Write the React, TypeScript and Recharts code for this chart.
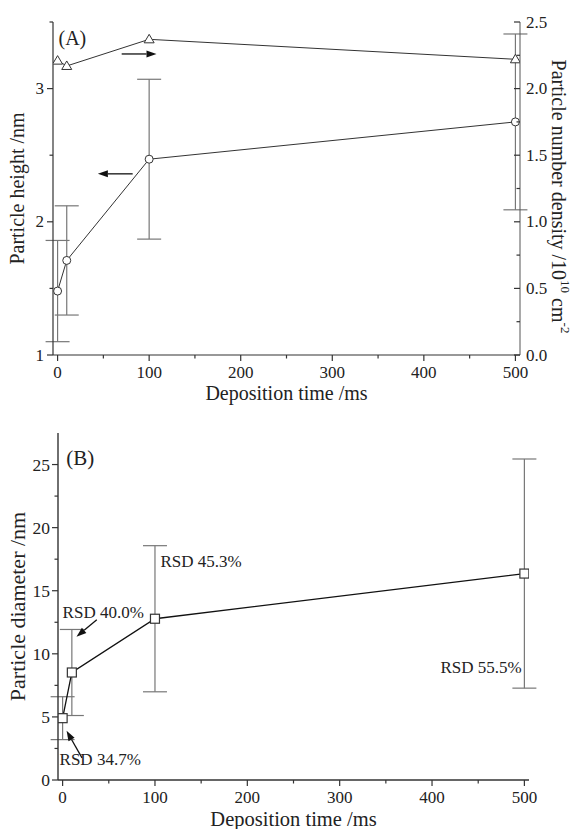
import React from "react";
import {
    ComposedChart, Line, XAxis, YAxis, ErrorBar, ReferenceLine, ReferenceDot,
} from "recharts";

// deposition time (ms)
const TIME = [0, 10, 100, 500];

// panel A
const HEIGHT = [1.48, 1.71, 2.47, 2.75];
const HEIGHT_ERR = [0.38, 0.41, 0.6, 0.66];
const DENSITY = [2.21, 2.17, 2.37, 2.22];

// panel B
const DIAMETER = [4.9, 8.52, 12.78, 16.36];
const DIAMETER_ERR = [1.7, 3.41, 5.79, 9.08];

const X_TICKS = [0, 50, 100, 150, 200, 250, 300, 350, 400, 450, 500];
const X_LABELS = [0, 100, 200, 300, 400, 500];
const HEIGHT_TICKS = [1, 1.5, 2, 2.5, 3, 3.5];
const HEIGHT_LABELS = [1, 2, 3];
const DENSITY_TICKS = [0, 0.25, 0.5, 0.75, 1, 1.25, 1.5, 1.75, 2, 2.25, 2.5];
const DENSITY_LABELS = [0, 0.5, 1, 1.5, 2, 2.5];
const DIAM_TICKS = [0, 2.5, 5, 7.5, 10, 12.5, 15, 17.5, 20, 22.5, 25];
const DIAM_LABELS = [0, 5, 10, 15, 20, 25];

// annotations: arrows [x1, y1, x2, y2] with the head at the second point
const ARROWS_A = [[70, 3.26, 108, 3.26], [82, 2.36, 44, 2.36]];
const ARROWS_B = [[21, 1.75, 4.3, 3.9], [37, 12.7, 15, 11.35]];
const RSD_NOTES = [
    { t: -3.3, v: 1.6, text: "RSD 34.7%", anchor: "start" },
    { t: 0, v: 13.25, text: "RSD 40.0%", anchor: "start" },
    { t: 106, v: 17.3, text: "RSD 45.3%", anchor: "start" },
    { t: 497, v: 8.9, text: "RSD 55.5%", anchor: "end" },
];

const dataA = TIME.map((t, i) => ({ t, h: HEIGHT[i], hErr: HEIGHT_ERR[i], d: DENSITY[i] }));
const dataB = TIME.map((t, i) => ({ t, dia: DIAMETER[i], diaErr: DIAMETER_ERR[i] }));

const FONT = "'Liberation Serif', 'DejaVu Serif', serif";
const TEXT = "#222";
const AXIS = "#333";
const LINE = "#333";
const ERR = "#777";

function makeTick(side: string, labels: number[], fmt: (v: number) => string, fs: number, gap: number) {
    return (props: any) => {
        const { x, y, payload } = props;
        const v = payload.value;
        const major = labels.some(l => Math.abs(l - v) < 1e-9);
        const len = major ? 6 : 3.5;
        if (side === "bottom") {
            return (
                <g>
                    <line x1={x} x2={x} y1={y} y2={y + len} stroke={AXIS} strokeWidth={1.2} />
                    {major && <text x={x} y={y + gap} textAnchor="middle" dominantBaseline="central"
                        fontFamily={FONT} fontSize={fs} fill={TEXT}>{fmt(v)}</text>}
                </g>
            );
        }
        if (side === "left") {
            return (
                <g>
                    <line x1={x - len} x2={x} y1={y} y2={y} stroke={AXIS} strokeWidth={1.2} />
                    {major && <text x={x - gap} y={y} textAnchor="end" dominantBaseline="central"
                        fontFamily={FONT} fontSize={fs} fill={TEXT}>{fmt(v)}</text>}
                </g>
            );
        }
        return (
            <g>
                <line x1={x - len} x2={x} y1={y} y2={y} stroke={AXIS} strokeWidth={1.2} />
                {major && <text x={x + gap} y={y} textAnchor="start" dominantBaseline="central"
                    fontFamily={FONT} fontSize={fs} fill={TEXT}>{fmt(v)}</text>}
            </g>
        );
    };
}

const arrowShape = (p: any) => {
    const { x1, y1, x2, y2 } = p;
    const a = Math.atan2(y2 - y1, x2 - x1);
    const L = 10, W = 3.5;
    const bx = x2 - L * Math.cos(a), by = y2 - L * Math.sin(a);
    const pts = `${x2},${y2} ${bx + W * Math.sin(a)},${by - W * Math.cos(a)} ${bx - W * Math.sin(a)},${by + W * Math.cos(a)}`;
    return (
        <g>
            <line x1={x1} y1={y1} x2={bx} y2={by} stroke="#111" strokeWidth={1.3} />
            <polygon points={pts} fill="#111" />
        </g>
    );
};

const circleDot = (p: any) => (
    <circle key={p.index} cx={p.cx} cy={p.cy} r={4} fill="#fff" stroke={LINE} strokeWidth={1} />
);
const triangleDot = (p: any) => (
    <path key={p.index} d={`M${p.cx},${p.cy - 5} L${p.cx + 5},${p.cy + 3.5} L${p.cx - 5},${p.cy + 3.5} Z`}
        fill="#fff" stroke={LINE} strokeWidth={1} />
);
const squareDot = (p: any) => (
    <rect key={p.index} x={p.cx - 4.5} y={p.cy - 4.5} width={9} height={9} fill="#fff" stroke={LINE} strokeWidth={1.2} />
);

function vLabel(text: React.ReactNode, dx: number, fs: number, angle: number, dy = 0) {
    return (props: any) => {
        const { x, y, height } = props.viewBox;
        const cx = x + dx, cy = y + height / 2 + dy;
        return (
            <text x={cx} y={cy} transform={`rotate(${angle} ${cx} ${cy})`} textAnchor="middle"
                dominantBaseline="central" fontFamily={FONT} fontSize={fs} fill={TEXT}>{text}</text>
        );
    };
}

function xLabel(text: string, dy: number, fs: number) {
    return (props: any) => {
        const { x, y, width } = props.viewBox;
        return (
            <text x={x + width / 2} y={y + dy} textAnchor="middle" dominantBaseline="central"
                fontFamily={FONT} fontSize={fs} fill={TEXT}>{text}</text>
        );
    };
}

function ChartA() {
    return (
        <ComposedChart width={576} height={410} data={dataA}
            margin={{ top: 22, right: 6, left: 8, bottom: 10 }}>
            <XAxis dataKey="t" type="number" domain={[-5, 505]} ticks={X_TICKS} interval={0}
                allowDataOverflow tickSize={0} tickMargin={0} tickLine={false} height={45}
                stroke={AXIS} strokeWidth={1.2}
                tick={makeTick("bottom", X_LABELS, v => String(v), 17, 17)}
                label={xLabel("Deposition time /ms", 38, 20)} />
            <XAxis xAxisId="top" orientation="top" dataKey="t" type="number" domain={[-5, 505]}
                height={0} tick={false} tickLine={false} stroke="#666" />
            <YAxis yAxisId="left" type="number" domain={[1, 3.5]} ticks={HEIGHT_TICKS} interval={0}
                allowDataOverflow tickSize={0} tickMargin={0} tickLine={false} width={45}
                stroke={AXIS} strokeWidth={1.2}
                tick={makeTick("left", HEIGHT_LABELS, v => String(v), 17, 9)}
                label={vLabel("Particle height /nm", 9, 20, -90)} />
            <YAxis yAxisId="right" orientation="right" type="number" domain={[0, 2.5]} ticks={DENSITY_TICKS}
                interval={0} allowDataOverflow tickSize={0} tickMargin={0} tickLine={false} width={50}
                stroke="#555" strokeWidth={1}
                tick={makeTick("right", DENSITY_LABELS, v => v.toFixed(1), 17, 6)}
                label={vLabel(
                    <>
                        {"Particle number density /10"}
                        <tspan dy={-7} fontSize={13}>10</tspan>
                        <tspan dy={7}>{" cm"}</tspan>
                        <tspan dy={-7} fontSize={13}>-2</tspan>
                    </>, 39, 20, 90, 8)} />
            <Line yAxisId="left" dataKey="h" stroke={LINE} strokeWidth={1} dot={circleDot}
                isAnimationActive={false}>
                <ErrorBar dataKey="hErr" direction="y" width={12} stroke={ERR} strokeWidth={1.2} />
            </Line>
            <Line yAxisId="right" dataKey="d" stroke={LINE} strokeWidth={1} dot={triangleDot}
                isAnimationActive={false} />
            {ARROWS_A.map((a, i) => (
                <ReferenceLine key={i} yAxisId="left" segment={[{ x: a[0], y: a[1] }, { x: a[2], y: a[3] }]}
                    shape={arrowShape} />
            ))}
            <ReferenceDot yAxisId="left" x={1} y={3.38} r={0}
                shape={(p: any) => (
                    <text x={p.cx} y={p.cy} dominantBaseline="central" fontFamily={FONT} fontSize={20} fill={TEXT}>(A)</text>
                )} />
        </ComposedChart>
    );
}

function ChartB() {
    return (
        <ComposedChart width={576} height={419} data={dataB}
            margin={{ top: 23, right: 47, left: 8, bottom: 1 }}>
            <XAxis dataKey="t" type="number" domain={[-5, 505]} ticks={X_TICKS} interval={0}
                allowDataOverflow tickSize={0} tickMargin={0} tickLine={false} height={48}
                stroke={AXIS} strokeWidth={1.4}
                tick={makeTick("bottom", X_LABELS, v => String(v), 17, 17)}
                label={xLabel("Deposition time /ms", 38.5, 20.5)} />
            <XAxis xAxisId="top" orientation="top" dataKey="t" type="number" domain={[-5, 505]}
                height={0} tick={false} tickLine={false} stroke="#666" />
            <YAxis type="number" domain={[0, 27.5]} ticks={DIAM_TICKS} interval={0}
                allowDataOverflow tickSize={0} tickMargin={0} tickLine={false} width={50}
                stroke={AXIS} strokeWidth={1.4}
                tick={makeTick("left", DIAM_LABELS, v => String(v), 17.5, 8)}
                label={vLabel("Particle diameter /nm", 9, 22, -90)} />
            <YAxis yAxisId="frame" orientation="right" width={0} tick={false} tickLine={false} stroke="#666" />
            <Line dataKey="dia" stroke="#111" strokeWidth={1.3} dot={squareDot} isAnimationActive={false}>
                <ErrorBar dataKey="diaErr" direction="y" width={12} stroke={ERR} strokeWidth={1.2} />
            </Line>
            {ARROWS_B.map((a, i) => (
                <ReferenceLine key={i} segment={[{ x: a[0], y: a[1] }, { x: a[2], y: a[3] }]} shape={arrowShape} />
            ))}
            {RSD_NOTES.map((n, i) => (
                <ReferenceDot key={i} x={n.t} y={n.v} r={0}
                    shape={(p: any) => (
                        <text x={p.cx} y={p.cy} textAnchor={n.anchor} dominantBaseline="central"
                            fontFamily={FONT} fontSize={17} fill={TEXT}>{n.text}</text>
                    )} />
            ))}
            <ReferenceDot x={4} y={25.5} r={0}
                shape={(p: any) => (
                    <text x={p.cx} y={p.cy} dominantBaseline="central" fontFamily={FONT} fontSize={21} fill={TEXT}>(B)</text>
                )} />
        </ComposedChart>
    );
}

export default function App() {
    return (
        <div style={{ position: "absolute", left: 0, top: 0, width: 576, height: 829, background: "#fff" }}>
            <ChartA />
            <ChartB />
        </div>
    );
}
